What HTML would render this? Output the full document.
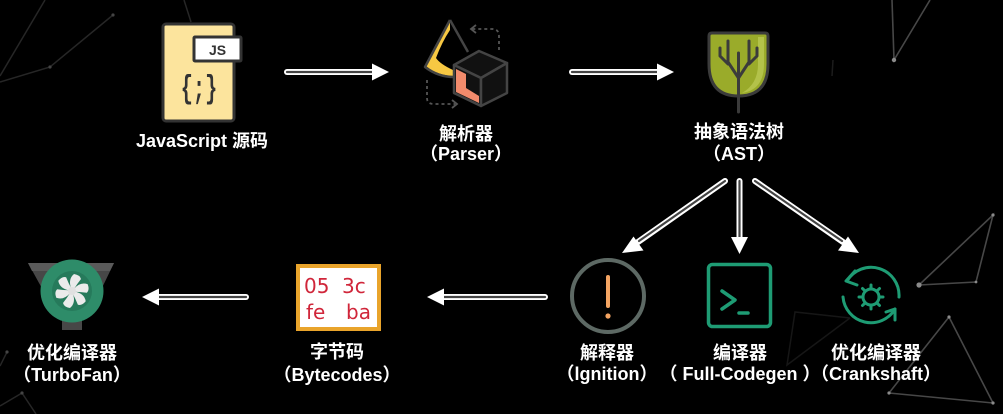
<!DOCTYPE html>
<html><head><meta charset="utf-8">
<style>
html,body{margin:0;padding:0;background:#000;width:1003px;height:414px;overflow:hidden;}
svg{display:block}
.lbl{font-family:"Liberation Sans","Noto Sans CJK SC",sans-serif;font-weight:bold;font-size:18px;fill:#fff;}
</style></head><body>
<svg width="1003" height="414" viewBox="0 0 1003 414" xmlns="http://www.w3.org/2000/svg">
<rect width="1003" height="414" fill="#000"/>

<!-- background constellations -->
<g stroke="#262626" stroke-width="1.5" fill="none">
  <polyline points="0,82 50,67 113,15"/>
  <line x1="45" y1="0" x2="0" y2="76"/>
  <line x1="184" y1="0" x2="191" y2="22"/>
  <line x1="0" y1="366" x2="7" y2="352"/>
  <polyline points="0,406 22,393 36,414"/>
  <polyline points="850,318 795,312 787,365 850,318" stroke="#161616"/>
  <line x1="833" y1="60" x2="832" y2="76" stroke="#1c1c1c"/>
</g>
<g stroke="#474747" stroke-width="1.6" fill="none">
  <polyline points="892,0 894,60 930,0"/>
  <polygon points="993,215 919,285 976,282"/>
  <polygon points="949,317 889,393 993,403"/>
</g>
<g fill="#8a8a8a">
  <circle cx="894" cy="60" r="2.2"/>
  <circle cx="919" cy="285" r="2.6"/>
  <circle cx="993" cy="215" r="1.6"/>
  <circle cx="976" cy="282" r="1.4"/>
  <circle cx="949" cy="317" r="1.6"/>
  <circle cx="889" cy="393" r="1.6"/>
  <circle cx="993" cy="403" r="1.6"/>
  <circle cx="50" cy="67" r="1.6" fill="#444"/>
  <circle cx="113" cy="15" r="1.6" fill="#444"/>
  <circle cx="7" cy="352" r="1.6" fill="#444"/>
  <circle cx="22" cy="393" r="1.6" fill="#444"/>
</g>

<!-- ===== JS source icon ===== -->
<rect x="163" y="24" width="71" height="97" rx="3" fill="#fce49d" stroke="#333" stroke-width="3"/>
<rect x="194" y="37" width="47" height="24" rx="1" fill="#fff" stroke="#333" stroke-width="3"/>
<text x="217.5" y="55" font-size="14" fill="#333" text-anchor="middle" font-family="Liberation Sans, sans-serif" font-weight="bold">JS</text>
<text transform="translate(199,98) scale(0.78,1.25)" font-size="26" fill="#333" text-anchor="middle" font-family="Liberation Mono, monospace" font-weight="bold">{;}</text>
<text class="lbl" x="202" y="147" text-anchor="middle">JavaScript 源码</text>

<!-- ===== Parser icon ===== -->
<path d="M450,21 L426,66 Q438,76 455,76 L453,70 Q440,64 436,58 Q442,42 450,30 Z" fill="#f7c843"/>
<g fill="none" stroke="#444" stroke-width="2.5" stroke-linejoin="round">
  <path d="M450,20 L425,67 Q438,77 454,77" />
  <path d="M450,20 L468,52"/>
</g>
<!-- cube -->
<g stroke="#444" stroke-width="2.5" stroke-linejoin="round">
  <polygon points="454,65 479,51 507,63 481,78" fill="#111"/>
  <polygon points="454,65 481,78 481,106 454,93" fill="#111"/>
  <polygon points="481,78 507,63 507,93 481,106" fill="#111"/>
</g>
<polygon points="456,69 466,74 466,88 479,96 479,103 456,92" fill="#f28b6c"/>
<!-- dashed cycle arrows -->
<g stroke="#555" stroke-width="1.8" fill="none" stroke-dasharray="3,3">
  <path d="M499,50 V36 Q499,29 492,29 H472"/>
  <path d="M427,80 V98 Q427,104 434,104 H455"/>
</g>
<g stroke="#555" stroke-width="1.8" fill="none">
  <polyline points="476,25 471,29 476,33"/>
  <polyline points="452,100 457,104 452,108"/>
</g>
<text class="lbl" x="466" y="140" text-anchor="middle">解析器</text>
<text class="lbl" x="466" y="160" text-anchor="middle">（Parser）</text>

<!-- ===== AST tree icon ===== -->
<path d="M712,33 H765 Q768,33 768,36 V64 Q768,96 738.5,96 Q709,96 709,64 V36 Q709,33 712,33 Z" fill="#9aab2a" stroke="#3b3b3b" stroke-width="3"/>
<path d="M758,37 H764 V64 Q764,90 742,93 Q758,84 758,64 Z" fill="#b3c24a"/>
<g stroke="#3b3b3b" stroke-width="3" fill="none" stroke-linecap="round" stroke-linejoin="round">
  <line x1="738.5" y1="53" x2="738.5" y2="112"/>
  <polyline points="728,41 728,62 738.5,78"/>
  <polyline points="749,41 749,62 738.5,78"/>
  <polyline points="720,48 720,56 728,64"/>
  <polyline points="757,48 757,56 749,64"/>
</g>
<text class="lbl" x="739" y="138" text-anchor="middle">抽象语法树</text>
<text class="lbl" x="739" y="160" text-anchor="middle">（AST）</text>

<!-- ===== arrows ===== -->
<g stroke-linecap="round">
  <line x1="287" y1="72" x2="374" y2="72" stroke="#fff" stroke-width="6"/>
  <line x1="287" y1="72" x2="373" y2="72" stroke="#444" stroke-width="2.2"/>
  <line x1="572" y1="72" x2="658" y2="72" stroke="#fff" stroke-width="6"/>
  <line x1="572" y1="72" x2="657" y2="72" stroke="#444" stroke-width="2.2"/>
  <line x1="725" y1="181" x2="638" y2="242" stroke="#fff" stroke-width="6"/>
  <line x1="725" y1="181" x2="639" y2="241" stroke="#444" stroke-width="2.2"/>
  <line x1="739.5" y1="181" x2="739.5" y2="239" stroke="#fff" stroke-width="6"/>
  <line x1="739.5" y1="181" x2="739.5" y2="238" stroke="#444" stroke-width="2.2"/>
  <line x1="755" y1="181" x2="843" y2="242" stroke="#fff" stroke-width="6"/>
  <line x1="755" y1="181" x2="842" y2="241" stroke="#444" stroke-width="2.2"/>
  <line x1="545" y1="297" x2="443" y2="297" stroke="#fff" stroke-width="6"/>
  <line x1="545" y1="297" x2="444" y2="297" stroke="#444" stroke-width="2.2"/>
  <line x1="246" y1="297" x2="158" y2="297" stroke="#fff" stroke-width="6"/>
  <line x1="246" y1="297" x2="159" y2="297" stroke="#444" stroke-width="2.2"/>
</g>
<g fill="#fff">
  <polygon points="389,72 372,63.5 372,80.5"/>
  <polygon points="674,72 657,63.5 657,80.5"/>
  <polygon points="622,253 633.5,236.5 643.5,250.5"/>
  <polygon points="739.5,254 731,237 748,237"/>
  <polygon points="859,253 838,250.5 848,236.5"/>
  <polygon points="427,297 444,288.5 444,305.5"/>
  <polygon points="142,297 159,288.5 159,305.5"/>
</g>

<!-- ===== Ignition ===== -->
<circle cx="608" cy="296" r="36" fill="none" stroke="#5d6964" stroke-width="4"/>
<line x1="608" y1="277" x2="608" y2="306" stroke="#f4a462" stroke-width="4" stroke-linecap="round"/>
<circle cx="608" cy="316" r="2.6" fill="#f4a462"/>
<text class="lbl" x="607" y="359" text-anchor="middle">解释器</text>
<text class="lbl" x="607" y="380" text-anchor="middle">（lgnition）</text>

<!-- ===== Full-Codegen ===== -->
<rect x="708.5" y="264.5" width="62" height="62" rx="4" fill="none" stroke="#1e9c74" stroke-width="3.5"/>
<polyline points="722,291 735,300 722,309" fill="none" stroke="#1e9c74" stroke-width="3.5" stroke-linecap="round" stroke-linejoin="round"/>
<line x1="739" y1="313" x2="748" y2="313" stroke="#1e9c74" stroke-width="3.5" stroke-linecap="round"/>
<text class="lbl" x="740" y="359" text-anchor="middle">编译器</text>
<text class="lbl" x="740" y="380" text-anchor="middle">（ Full-Codegen ）</text>

<!-- ===== Crankshaft ===== -->
<g fill="none" stroke="#1e9c74" stroke-width="3" stroke-linecap="round" stroke-linejoin="round">
  <path d="M847,281 A28,28 0 0 1 899,297"/>
  <path d="M843,297 A28,28 0 0 0 895,309"/>
  <polyline points="855,271 846,281 857,285"/>
  <polyline points="886,312 895,309 895,320"/>
  <circle cx="871" cy="297" r="8"/>
  <line x1="871" y1="285" x2="871" y2="288"/>
  <line x1="871" y1="306" x2="871" y2="309"/>
  <line x1="859" y1="297" x2="862" y2="297"/>
  <line x1="880" y1="297" x2="883" y2="297"/>
  <line x1="862.5" y1="288.5" x2="864.6" y2="290.6"/>
  <line x1="877.4" y1="303.4" x2="879.5" y2="305.5"/>
  <line x1="879.5" y1="288.5" x2="877.4" y2="290.6"/>
  <line x1="864.6" y1="303.4" x2="862.5" y2="305.5"/>
</g>
<text class="lbl" x="876" y="359" text-anchor="middle">优化编译器</text>
<text class="lbl" x="876" y="380" text-anchor="middle">（Crankshaft）</text>

<!-- ===== Bytecodes ===== -->
<rect x="298" y="266" width="81" height="63" fill="#fff" stroke="#e9a42b" stroke-width="4"/>
<g fill="#d0263a" font-family="DejaVu Sans, sans-serif" font-size="20" font-weight="normal">
  <text x="304" y="293">05</text>
  <text x="342" y="293">3c</text>
  <text x="306" y="319">fe</text>
  <text x="346" y="319">ba</text>
</g>
<text class="lbl" x="337" y="358" text-anchor="middle">字节码</text>
<text class="lbl" x="337" y="381" text-anchor="middle">（Bytecodes）</text>

<!-- ===== TurboFan ===== -->
<polygon points="28,263 114,263 100,292 44,292" fill="#474747"/>
<polygon points="28,263 114,263 110,271 32,271" fill="#5a5a5a"/>
<rect x="62" y="316" width="20" height="14" fill="#474747"/>
<circle cx="72" cy="291" r="31.5" fill="#2e8c69"/>
<circle cx="72" cy="291" r="20" fill="#267a5b"/>
<g fill="#ebebeb" transform="translate(72,291)">
  <path d="M-1,-3 Q-4,-12 2,-17 Q8,-16 9,-12 Q5,-7 2,-2 Z"/>
  <path d="M-1,-3 Q-4,-12 2,-17 Q8,-16 9,-12 Q5,-7 2,-2 Z" transform="rotate(60)"/>
  <path d="M-1,-3 Q-4,-12 2,-17 Q8,-16 9,-12 Q5,-7 2,-2 Z" transform="rotate(120)"/>
  <path d="M-1,-3 Q-4,-12 2,-17 Q8,-16 9,-12 Q5,-7 2,-2 Z" transform="rotate(180)"/>
  <path d="M-1,-3 Q-4,-12 2,-17 Q8,-16 9,-12 Q5,-7 2,-2 Z" transform="rotate(240)"/>
  <path d="M-1,-3 Q-4,-12 2,-17 Q8,-16 9,-12 Q5,-7 2,-2 Z" transform="rotate(300)"/>
  <circle r="4" fill="#e0e0e0"/>
</g>
<text class="lbl" x="72" y="359" text-anchor="middle">优化编译器</text>
<text class="lbl" x="72" y="381" text-anchor="middle">（TurboFan）</text>
</svg>
</body></html>
